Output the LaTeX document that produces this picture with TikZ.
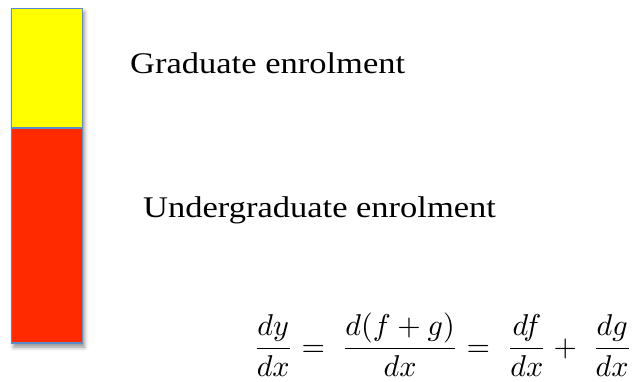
\documentclass[tikz,border=0pt]{standalone}
\usepackage{fontspec}
\setmainfont{Liberation Serif}[FakeStretch=1.15]
\usepackage{graphicx}
\usetikzlibrary{shadows.blur}
\definecolor{barblue}{HTML}{5B8BC9}
\definecolor{baryellow}{HTML}{FFFF00}
\definecolor{barred}{HTML}{FF2A00}
\tikzset{
  barpart/.style={draw=barblue, line width=1.6pt},
  label/.style={anchor=base west, inner sep=0pt, font=\fontsize{30}{36}\selectfont}
}
\begin{document}
\begin{tikzpicture}[x=1pt,y=-1pt]
\useasboundingbox (0,0) rectangle (637,381);
\fill[white, blur shadow={shadow xshift=2pt, shadow yshift=-4pt, shadow blur radius=4pt, shadow opacity=45}] (11.5,8.3) rectangle (82.5,343);
\draw[barpart, fill=baryellow] (11.5,8.3) rectangle (82.5,127.7);
\draw[barpart, fill=barred] (11.5,127.7) rectangle (82.5,343);
\node[label] (grad) at (130,73) {Graduate enrolment};
\node[label] (ugrad) at (143,217) {Undergraduate enrolment};
\node[anchor=west, inner sep=0pt] (eq) at (253,345)
  {\resizebox{379pt}{!}{$\displaystyle \frac{dy}{dx} =\;\frac{d(f+g)}{dx} =\;\frac{df}{dx} +\;\frac{dg}{dx}$}};
\end{tikzpicture}
\end{document}
